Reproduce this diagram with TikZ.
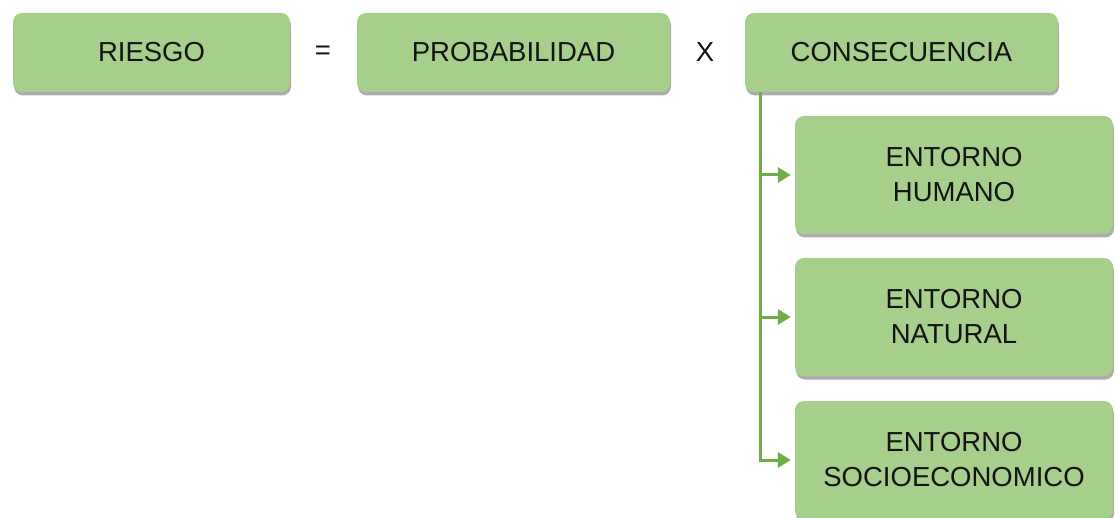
\documentclass[tikz,border=0pt]{standalone}
\usepackage{fontspec}
\setmainfont{Liberation Sans}
\usetikzlibrary{arrows.meta,calc,shadows}

\definecolor{boxgreen}{HTML}{A6CF8C}
\definecolor{linegreen}{HTML}{70AD47}
\definecolor{inktext}{HTML}{141414}

\begin{document}
\begin{tikzpicture}[x=1pt,y=-1pt,font=\fontsize{27.5pt}{35pt}\selectfont,
  term/.style={fill=boxgreen,rounded corners=9pt,text=inktext,align=center,
    inner sep=0pt,minimum height=79pt,
    drop shadow={shadow xshift=1pt,shadow yshift=-3.5pt,opacity=0.5,fill=black!65}},
  subterm/.style={term,minimum width=318pt,minimum height=118pt},
  conn/.style={draw=linegreen,line width=3pt,shorten >=4pt,
    -{Triangle[length=13pt,width=15pt]}}]
  \useasboundingbox (0,0) rectangle (1115,518);
  % equation row
  \node[term,minimum width=277pt] (riesgo) at (151.5,52.5) {RIESGO};
  \node[text=inktext] (igual) at (323,52.5) {=};
  \node[term,minimum width=313pt] (prob) at (513.5,52.5) {PROBABILIDAD};
  \node[text=inktext] (por) at (705,52.5) {X};
  \node[term,minimum width=313pt] (cons) at (901.5,52.5) {CONSECUENCIA};
  % consequence branches
  \node[subterm] (humano) at (954,175) {ENTORNO\\HUMANO};
  \node[subterm] (natural) at (954,317) {ENTORNO\\NATURAL};
  \node[subterm] (socio) at (954,460) {ENTORNO\\SOCIOECONOMICO};
  \coordinate (trunk) at ($(cons.south west)+(16,0)$);
  \draw[conn] (trunk) |- (humano.west);
  \draw[conn] (trunk) |- (natural.west);
  \draw[conn] (trunk) |- (socio.west);
\end{tikzpicture}
\end{document}
